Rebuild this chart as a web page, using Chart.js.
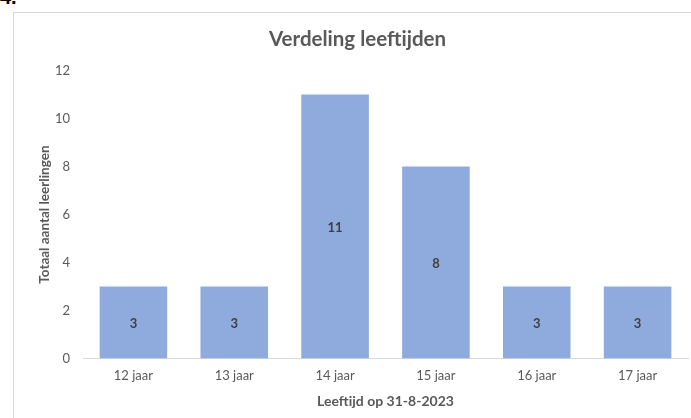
<!DOCTYPE html>
<html>
<head>
<meta charset="utf-8">
<script src="https://cdn.jsdelivr.net/npm/chart.js@4.4.1/dist/chart.umd.min.js"></script>
<style>
  html, body { margin: 0; padding: 0; background: #fff; overflow: hidden; }
  body { width: 691px; height: 418px; position: relative; }
  #kader {
    position: absolute; left: 13px; top: 12px; width: 700px; height: 420px;
    border-left: 1px solid #d9d9d9; border-top: 1px solid #d9d9d9;
  }
  #nummer {
    position: absolute; left: 0; top: -14px;
    font: bold 20px "Liberation Sans", Arial, sans-serif; color: #000;
  }
  #houder { position: absolute; left: 0; top: 0; width: 691px; height: 418px; }
</style>
</head>
<body>
<div id="nummer">4.</div>
<div id="kader"></div>
<div id="houder"><canvas id="grafiek"></canvas></div>
<script>
// Gegevens uit de grafiek
const leeftijden = ['12 jaar', '13 jaar', '14 jaar', '15 jaar', '16 jaar', '17 jaar'];
const aantallen = [3, 3, 11, 8, 3, 3];
const yTicks = [0, 2, 4, 6, 8, 10, 12];

const TEKST_GRIJS = '#595959';
const LETTER = 'Lato, Carlito, Calibri, sans-serif';

// Waarden midden in de staaf zetten
const waardeLabels = {
    id: 'waardeLabels',
    afterDatasetsDraw(chart) {
        const ctx = chart.ctx;
        const meta = chart.getDatasetMeta(0);
        ctx.save();
        ctx.font = 'bold 13px ' + LETTER;
        ctx.fillStyle = '#404040';
        ctx.textAlign = 'center';
        ctx.textBaseline = 'middle';
        meta.data.forEach((staaf, i) => {
            const midden = (staaf.y + staaf.base) / 2;
            ctx.fillText(String(aantallen[i]), staaf.x, midden + 1);
        });
        ctx.restore();
    }
};

new Chart(document.getElementById('grafiek'), {
    type: 'bar',
    data: {
        labels: leeftijden,
        datasets: [{
            data: aantallen,
            backgroundColor: '#8faadc',
            borderWidth: 0,
            barPercentage: 0.67,
            categoryPercentage: 1
        }]
    },
    options: {
        responsive: true,
        maintainAspectRatio: false,
        animation: false,
        layout: { padding: { left: 27, right: 3, top: 27, bottom: 8 } },
        plugins: {
            legend: { display: false },
            tooltip: { enabled: false },
            title: {
                display: true,
                text: 'Verdeling leeftijden',
                color: TEKST_GRIJS,
                font: { family: LETTER, size: 20.5, weight: 'bold' },
                padding: { top: 0, bottom: 19 }
            }
        },
        scales: {
            x: {
                grid: { display: false, drawTicks: false },
                border: { color: '#d9d9d9', width: 1 },
                ticks: { color: TEKST_GRIJS, font: { family: LETTER, size: 13 }, padding: 9.5 },
                title: {
                    display: true,
                    text: 'Leeftijd op 31-8-2023',
                    color: TEKST_GRIJS,
                    font: { family: LETTER, size: 14, weight: 'bold' },
                    padding: { top: 0, bottom: 0 }
                }
            },
            y: {
                min: 0,
                max: 12,
                afterBuildTicks(as) { as.ticks = yTicks.map(v => ({ value: v })); },
                afterFit(as) { as.width = 56; },
                grid: { display: false, drawTicks: false },
                border: { display: false },
                ticks: { color: TEKST_GRIJS, font: { family: LETTER, size: 13 }, padding: 13 },
                title: {
                    display: true,
                    text: 'Totaal aantal leerlingen',
                    color: TEKST_GRIJS,
                    font: { family: LETTER, size: 13.5, weight: 'bold' },
                    padding: { top: 10, bottom: 0 }
                }
            }
        }
    },
    plugins: [waardeLabels]
});
</script>
</body>
</html>
